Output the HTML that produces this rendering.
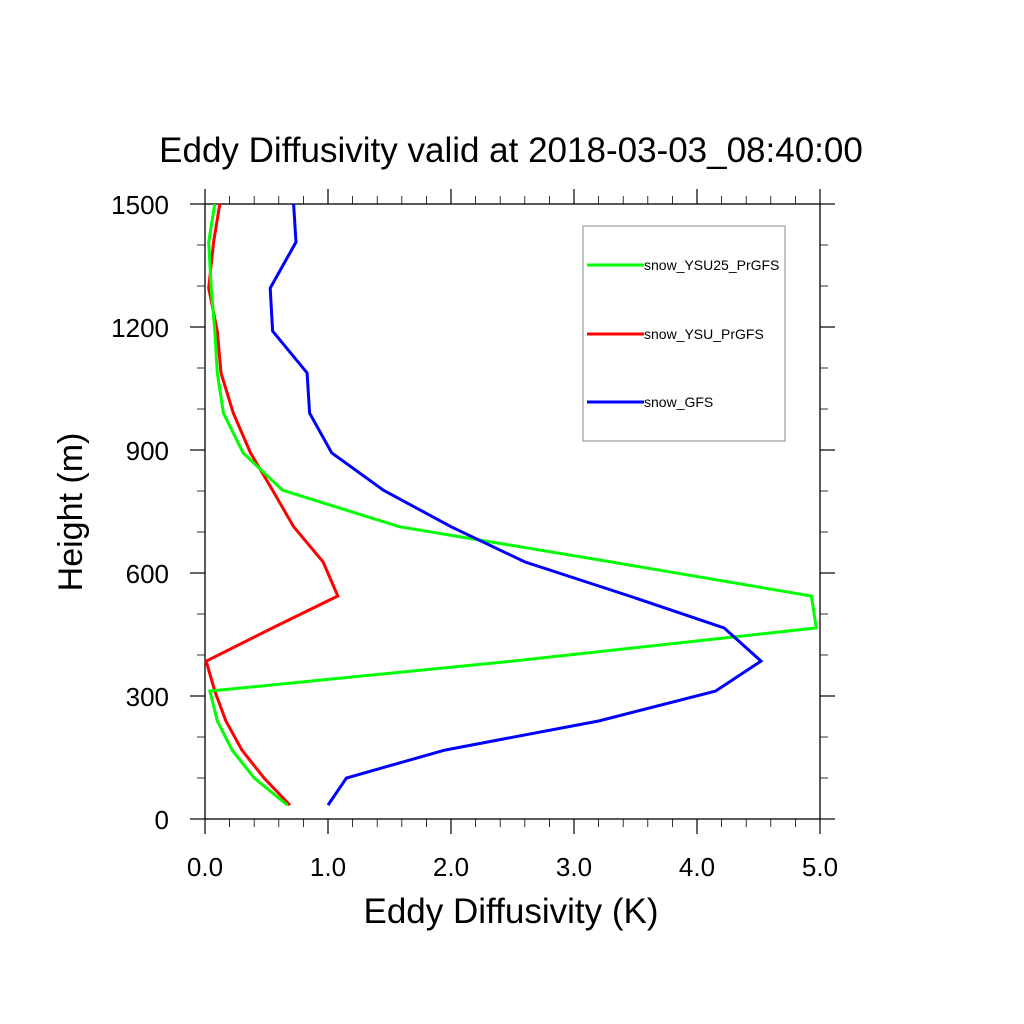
<!DOCTYPE html>
<html><head><meta charset="utf-8"><style>
html,body{margin:0;padding:0;background:#fff;}
svg{display:block;font-family:"Liberation Sans",sans-serif;}
</style></head><body>
<svg id="chart" width="1024" height="1024" viewBox="0 0 1024 1024">
<rect width="1024" height="1024" fill="#fff"/>
<text x="511" y="162" font-size="35" text-anchor="middle">Eddy Diffusivity valid at 2018-03-03_08:40:00</text>
<g id="axes"></g>
<g id="series"></g>
<text x="511" y="923" font-size="35" text-anchor="middle">Eddy Diffusivity (K)</text>
<text transform="translate(82,512) rotate(-90)" font-size="34" text-anchor="middle">Height (m)</text>
<g>
<rect x="583" y="226" width="202" height="215" fill="none" stroke="#888" stroke-width="1"/>
<g><line x1="587" y1="265" x2="644" y2="265" stroke="#00ff00" stroke-width="3"/><text x="644" y="270" font-size="14">snow_YSU25_PrGFS</text></g>
<g><line x1="587" y1="334" x2="644" y2="334" stroke="#ff0000" stroke-width="3"/><text x="644" y="339" font-size="14">snow_YSU_PrGFS</text></g>
<g><line x1="587" y1="402" x2="644" y2="402" stroke="#0000ff" stroke-width="3"/><text x="644" y="407" font-size="14">snow_GFS</text></g>
</g>
</svg>
<script>
const heights=[34,100,168,239,312,385,466,544,627,713,802,893,990,1088,1190,1295,1407,1500];
const gfs=[1.0,1.15,1.95,3.2,4.15,4.52,4.22,3.45,2.6,2.0,1.45,1.03,0.85,0.83,0.55,0.53,0.74,0.72];
const ysu25=[0.67,0.4,0.22,0.1,0.04,2.5,4.97,4.93,3.3,1.58,0.63,0.31,0.15,0.1,0.08,0.05,0.03,0.08];
const ysu=[0.69,0.48,0.3,0.17,0.08,0.01,0.55,1.08,0.96,0.72,0.55,0.37,0.23,0.13,0.1,0.03,0.07,0.12];
const xTicks=["0.0","1.0","2.0","3.0","4.0","5.0"];
const yTicks=["0","300","600","900","1200","1500"];
const X0=205,X1=820,Y0=819,Y1=204;
const xs=v=>X0+(v/5)*(X1-X0);
const ys=v=>Y0-(v/1500)*(Y0-Y1);
const NS="http://www.w3.org/2000/svg";
function mk(tag,attrs,parent){const e=document.createElementNS(NS,tag);for(const k in attrs)e.setAttribute(k,attrs[k]);parent.appendChild(e);return e;}
const ax=document.getElementById('axes');
const frame=mk('rect',{x:X0,y:Y1,width:X1-X0,height:Y0-Y1,fill:'none',stroke:'#000','stroke-width':1.3},ax);


for(let i=0;i<=25;i++){const v=i*0.2;const x=xs(v);const major=i%5===0;const L=major?15:8;
 mk('line',{x1:x,y1:Y0,x2:x,y2:Y0+L,stroke:'#000','stroke-width':major?1.2:0.8},ax);
 mk('line',{x1:x,y1:Y1,x2:x,y2:Y1-L,stroke:'#000','stroke-width':major?1.2:0.8},ax);}
for(let i=0;i<=15;i++){const v=i*100;const y=ys(v);const major=i%3===0;const L=major?15:8;
 mk('line',{x1:X0,y1:y,x2:X0-L,y2:y,stroke:'#000','stroke-width':major?1.2:0.8},ax);
 mk('line',{x1:X1,y1:y,x2:X1+L,y2:y,stroke:'#000','stroke-width':major?1.2:0.8},ax);}
xTicks.forEach(t=>{const e=mk('text',{x:xs(parseFloat(t)),y:876,'font-size':26,'text-anchor':'middle'},ax);e.textContent=t;
 
 });
yTicks.forEach(t=>{const e=mk('text',{x:169,y:ys(parseFloat(t))+10,'font-size':26,'text-anchor':'end'},ax);e.textContent=t;
 
 });
const sg=document.getElementById('series');
[[ysu,'#ff0000','line-snow-ysu'],[ysu25,'#00ff00','line-snow-ysu25'],[gfs,'#0000ff','line-snow-gfs']].forEach(([vals,c,n])=>{
 const pts=vals.map((v,i)=>xs(v).toFixed(1)+','+ys(heights[i]).toFixed(1)).join(' ');
 const p=mk('polyline',{points:pts,fill:'none',stroke:c,'stroke-width':3,'stroke-linejoin':'miter'},sg);
 
 
});
</script>
</body></html>
